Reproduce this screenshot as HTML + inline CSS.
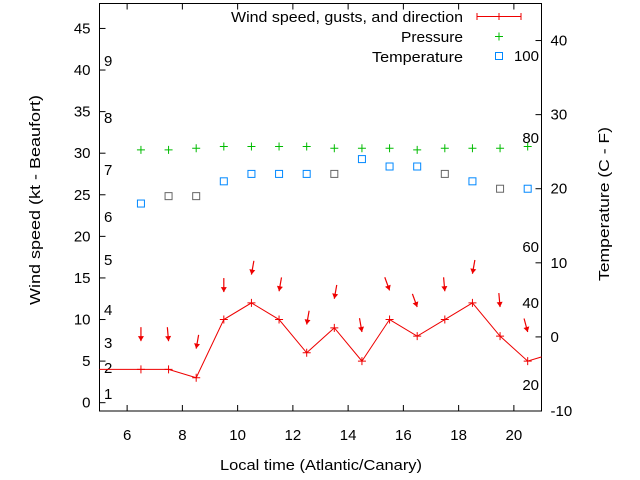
<!DOCTYPE html>
<html><head><meta charset="utf-8"><style>
body{margin:0;background:#fff;}
svg{display:block;font-family:"Liberation Sans",sans-serif;}
</style></head><body>
<svg id="c" width="640" height="480">
<rect x="99.5" y="3.5" width="442" height="407.5" fill="none" stroke="#000" stroke-width="1"/>
<g id="axes"></g>
<g id="marks"></g>
<text x="220" y="470" font-size="15" textLength="202" lengthAdjust="spacingAndGlyphs">Local time (Atlantic/Canary)</text>
<text transform="translate(40,305) rotate(-90)" font-size="15" textLength="210" lengthAdjust="spacingAndGlyphs">Wind speed (kt - Beaufort)</text>
<text transform="translate(609,281) rotate(-90)" font-size="15" textLength="154" lengthAdjust="spacingAndGlyphs">Temperature (C - F)</text>
<g>
<text x="231" y="22" font-size="15" textLength="232" lengthAdjust="spacingAndGlyphs">Wind speed, gusts, and direction</text>
<line x1="477" y1="16.5" x2="521" y2="16.5" stroke="#e00"/>
<line x1="477" y1="13" x2="477" y2="20" stroke="#e00"/><line x1="499" y1="13" x2="499" y2="20" stroke="#e00"/><line x1="521" y1="13" x2="521" y2="20" stroke="#e00"/>
<text x="401" y="42" font-size="15" textLength="62" lengthAdjust="spacingAndGlyphs">Pressure</text>
<path d="M495 36.5h8M499 32.5v8" stroke="#0b0"/>
<text x="372" y="62" font-size="15" textLength="91" lengthAdjust="spacingAndGlyphs">Temperature</text>
<rect x="495.5" y="52.5" width="7" height="7" fill="none" stroke="#08f"/>
</g>
</svg>
<script>
const hours=[6.5,7.5,8.5,9.5,10.5,11.5,12.5,13.5,14.5,15.5,16.5,17.5,18.5,19.5,20.5];
const windLineX=[5,6.5,7.5,8.5,9.5,10.5,11.5,12.5,13.5,14.5,15.5,16.5,17.5,18.5,19.5,20.5,21.5];
const windLineY=[4,4,4,3,10,12,10,6,9,5,10,8,10,12,8,5,6];
const gust=[7.4,7.4,6.5,13.3,15.4,13.4,9.4,12.5,8.5,13.5,11.5,13.4,15.5,11.5,8.5];
const dirDeg=[0,355,10,0,10,10,10,10,350,340,340,355,10,355,345];
const pressure=[30.4,30.4,30.6,30.8,30.8,30.8,30.8,30.6,30.6,30.6,30.4,30.6,30.6,30.6,30.8];
const tempC=[18,19,19,21,22,22,22,22,24,23,23,22,21,20,20];
const tempGray=[0,1,1,0,0,0,0,1,0,0,0,1,0,1,0];
const xTicks=[6,8,10,12,14,16,18,20];
const yTicks=[0,5,10,15,20,25,30,35,40,45];
const y2Ticks=[-10,0,10,20,30,40];
const beaufort=[["1",394],["2",368],["3",343],["4",310],["5",260],["6",217],["7",170],["8",118],["9",61]];
const fLabels=[["20",385],["40",303],["60",247],["80",138],["100",56]];

const L=99.5,R=541.5,T=3.5,B=411;
const X=v=>L+(v-5)/(21-5)*(R-L);
const Y=v=>B-(v+1)/(48+1)*(B-T);
const Y2=v=>B-(v+10)/(45+10)*(B-T);
const NS='http://www.w3.org/2000/svg';
const ax=document.getElementById('axes'),mk=document.getElementById('marks');
function el(p,t,a){const e=document.createElementNS(NS,t);for(const k in a)e.setAttribute(k,a[k]);p.appendChild(e);return e;}
const FS=15;
xTicks.forEach(v=>{const x=X(v);
 el(ax,'path',{d:`M${x} ${B}v-6M${x} ${T}v6`,stroke:'#000'});
 const t=el(ax,'text',{x:x,y:B+29,'font-size':FS,'text-anchor':'middle'});t.textContent=v;
 
 });
yTicks.forEach(v=>{const y=Y(v);
 el(ax,'path',{d:`M${L} ${y}h6`,stroke:'#000'});
 const t=el(ax,'text',{x:L-9,y:y+5,'font-size':FS,'text-anchor':'end'});t.textContent=v;
 
 });
y2Ticks.forEach(v=>{const y=Y2(v);
 el(ax,'path',{d:`M${R} ${y}h-6`,stroke:'#000'});
 const t=el(ax,'text',{x:R+9,y:y+5,'font-size':FS,'text-anchor':'start'});t.textContent=v;
 
 });
beaufort.forEach(b=>{const t=el(ax,'text',{x:104,y:b[1]+5,'font-size':FS});t.textContent=b[0];
 
 });
fLabels.forEach(b=>{const t=el(ax,'text',{x:539,y:b[1]+5,'font-size':FS,'text-anchor':'end'});t.textContent=b[0];
 
 });
const cp=el(mk,'clipPath',{id:'cl'});el(cp,'rect',{x:L,y:T,width:R-L,height:B-T});
const g=el(mk,'g',{'clip-path':'url(#cl)'});
const line=el(g,'polyline',{points:windLineX.map((x,i)=>X(x)+','+Y(windLineY[i])).join(' '),fill:'none',stroke:'#e00'});


hours.forEach((h,i)=>{
 const x=X(h),y=Y(windLineY[i+1]);
 const p=el(g,'path',{d:`M${x-4} ${y}h8M${x} ${y-4}v8`,stroke:'#e00'});
 
 
 const ty=Y(gust[i]),a=dirDeg[i]*Math.PI/180,len=14;
 const tx0=x+Math.sin(a)*len,ty0=ty-Math.cos(a)*len;
 const ux=Math.sin(a),uy=-Math.cos(a);
 const ar=el(g,'g',{});
 
 
 el(ar,'line',{x1:tx0,y1:ty0,x2:x,y2:ty,stroke:'#e00','stroke-width':1.2});
 const px=-uy,py=ux;
 el(ar,'polygon',{points:`${x},${ty} ${x+ux*5+px*3},${ty+uy*5+py*3} ${x+ux*5-px*3},${ty+uy*5-py*3}`,fill:'#e00'});
 const pp=el(g,'path',{d:`M${x-4} ${Y(pressure[i])}h8M${x} ${Y(pressure[i])-4}v8`,stroke:'#0b0'});
 
 
 const ts=el(g,'rect',{x:x-3.5,y:Y2(tempC[i])-3.5,width:7,height:7,fill:'none',stroke:tempGray[i]?'#666':'#08f'});
 
 
});
</script>
</body></html>
